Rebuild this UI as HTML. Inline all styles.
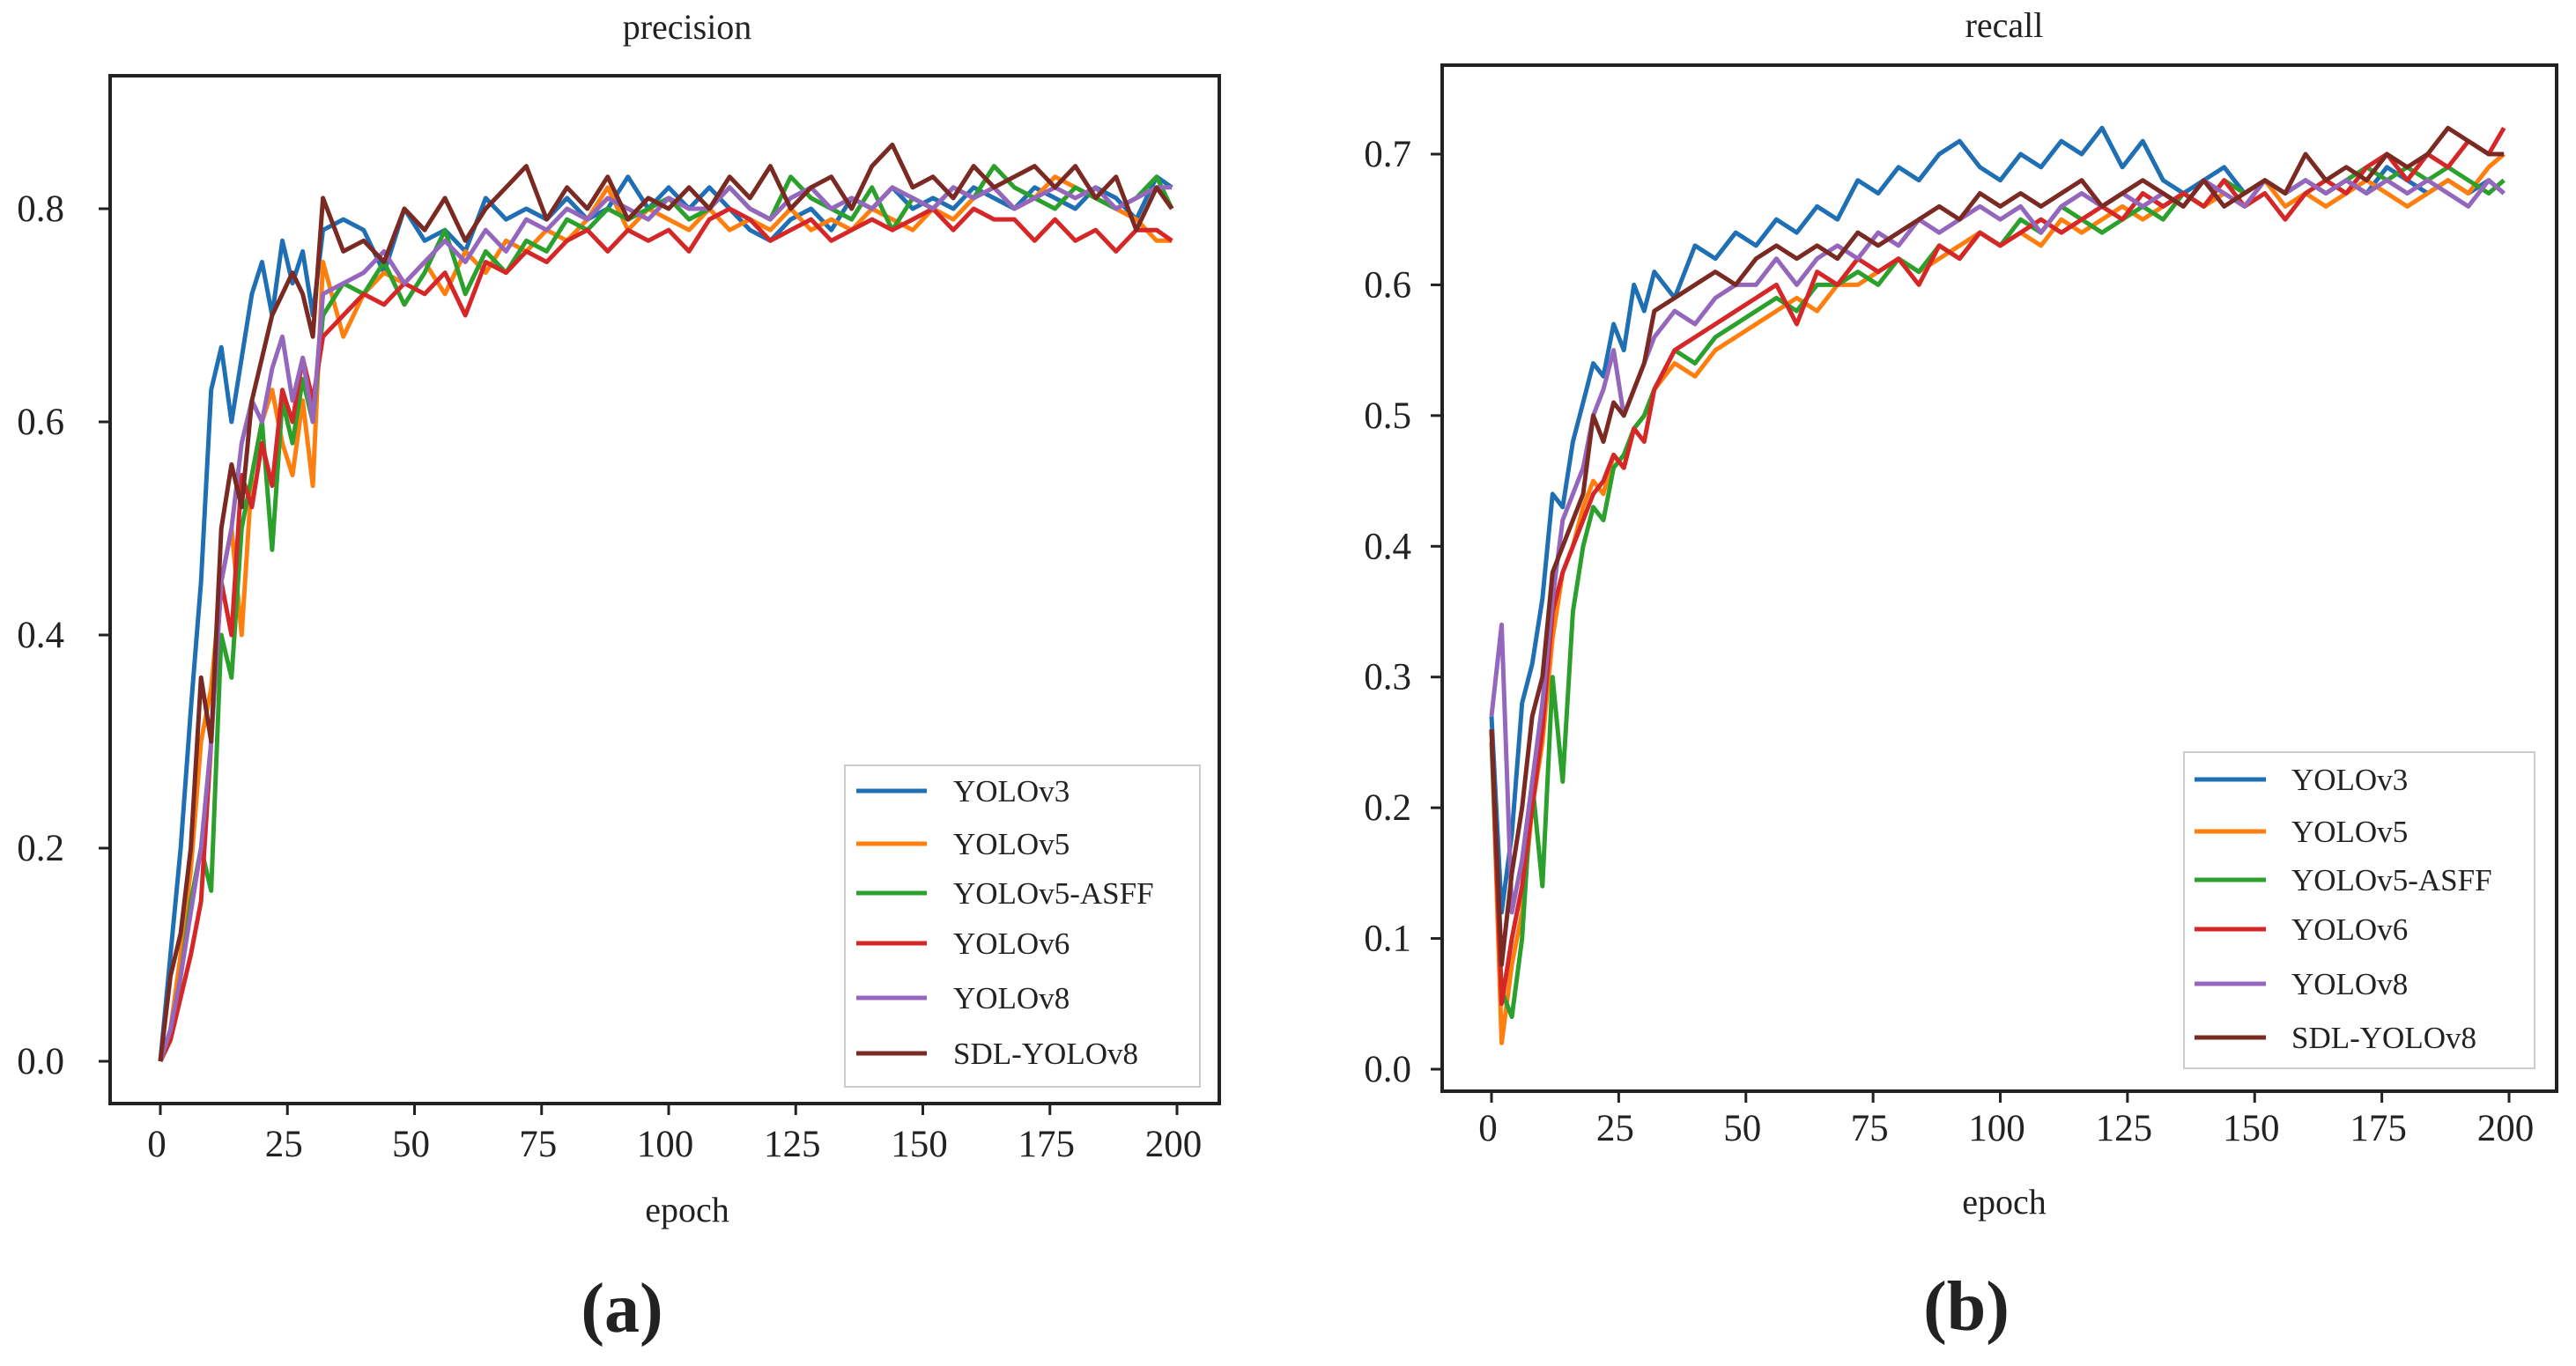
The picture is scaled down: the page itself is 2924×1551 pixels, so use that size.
<!DOCTYPE html>
<html><head><meta charset="utf-8"><style>
body{margin:0;background:#fff;}
svg text{font-family:"Liberation Serif",serif;fill:#222;}
</style></head><body>
<svg id="fig" width="2924" height="1546" viewBox="0 0 2924 1546" xmlns="http://www.w3.org/2000/svg">
<g id="chartA"></g>
<g id="chartB"></g>
<text x="706" y="1512" font-size="80" font-weight="bold" text-anchor="middle">(a)</text>
<text x="2232" y="1510" font-size="80" font-weight="bold" text-anchor="middle">(b)</text>
</svg>
<script>
const epochs=[0,2,4,6,8,10,12,14,16,18,20,22,24,26,28,30,32,36,40,44,48,52,56,60,64,68,72,76,80,84,88,92,96,100,104,108,112,116,120,124,128,132,136,140,144,148,152,156,160,164,168,172,176,180,184,188,192,196,199];
const seriesNames=["YOLOv3","YOLOv5","YOLOv5-ASFF","YOLOv6","YOLOv8","SDL-YOLOv8"];
const seriesColors=["#1f6fb4","#ff7f0e","#2ca02c","#d62728","#9467bd","#7a2a22"];
const precV3=[0.0,0.1,0.2,0.33,0.45,0.63,0.67,0.6,0.66,0.72,0.75,0.7,0.77,0.73,0.76,0.7,0.78,0.79,0.78,0.74,0.8,0.77,0.78,0.76,0.81,0.79,0.8,0.79,0.81,0.79,0.8,0.83,0.8,0.82,0.8,0.82,0.8,0.78,0.77,0.79,0.8,0.78,0.81,0.8,0.82,0.8,0.81,0.8,0.82,0.81,0.8,0.82,0.81,0.8,0.82,0.81,0.79,0.83,0.82];
const precV5=[0.0,0.03,0.1,0.18,0.3,0.35,0.45,0.5,0.4,0.55,0.6,0.63,0.58,0.55,0.62,0.54,0.75,0.68,0.72,0.74,0.73,0.75,0.72,0.76,0.74,0.77,0.76,0.78,0.77,0.79,0.82,0.78,0.8,0.79,0.78,0.8,0.78,0.79,0.78,0.8,0.78,0.79,0.78,0.8,0.79,0.78,0.8,0.79,0.81,0.82,0.8,0.81,0.83,0.82,0.81,0.8,0.79,0.77,0.77];
const precASFF=[0.0,0.02,0.08,0.15,0.2,0.16,0.4,0.36,0.5,0.55,0.6,0.48,0.62,0.58,0.64,0.6,0.7,0.73,0.72,0.75,0.71,0.74,0.78,0.72,0.76,0.74,0.77,0.76,0.79,0.78,0.8,0.79,0.8,0.81,0.79,0.8,0.82,0.8,0.79,0.83,0.81,0.8,0.79,0.82,0.78,0.81,0.8,0.82,0.81,0.84,0.82,0.81,0.8,0.82,0.81,0.8,0.81,0.83,0.8];
const precV6=[0.0,0.02,0.06,0.1,0.15,0.3,0.45,0.4,0.55,0.52,0.58,0.54,0.63,0.6,0.66,0.62,0.68,0.7,0.72,0.71,0.73,0.72,0.74,0.7,0.75,0.74,0.76,0.75,0.77,0.78,0.76,0.78,0.77,0.78,0.76,0.79,0.8,0.79,0.77,0.78,0.79,0.77,0.78,0.79,0.78,0.79,0.8,0.78,0.8,0.79,0.79,0.77,0.79,0.77,0.78,0.76,0.78,0.78,0.77];
const precV8=[0.0,0.03,0.08,0.14,0.2,0.3,0.45,0.5,0.58,0.62,0.6,0.65,0.68,0.62,0.66,0.6,0.72,0.73,0.74,0.76,0.73,0.75,0.77,0.75,0.78,0.76,0.79,0.78,0.8,0.79,0.81,0.8,0.79,0.81,0.8,0.8,0.82,0.8,0.79,0.81,0.82,0.8,0.81,0.8,0.82,0.81,0.8,0.82,0.81,0.82,0.8,0.81,0.82,0.81,0.82,0.8,0.81,0.82,0.82];
const precSDL=[0.0,0.08,0.12,0.2,0.36,0.3,0.5,0.56,0.52,0.62,0.66,0.7,0.72,0.74,0.72,0.68,0.81,0.76,0.77,0.75,0.8,0.78,0.81,0.77,0.8,0.82,0.84,0.79,0.82,0.8,0.83,0.79,0.81,0.8,0.82,0.8,0.83,0.81,0.84,0.8,0.82,0.83,0.8,0.84,0.86,0.82,0.83,0.81,0.84,0.82,0.83,0.84,0.82,0.84,0.81,0.83,0.78,0.82,0.8];
const recV3=[0.27,0.12,0.18,0.28,0.31,0.36,0.44,0.43,0.48,0.51,0.54,0.53,0.57,0.55,0.6,0.58,0.61,0.59,0.63,0.62,0.64,0.63,0.65,0.64,0.66,0.65,0.68,0.67,0.69,0.68,0.7,0.71,0.69,0.68,0.7,0.69,0.71,0.7,0.72,0.69,0.71,0.68,0.67,0.68,0.69,0.67,0.68,0.67,0.68,0.67,0.68,0.67,0.69,0.68,0.67,0.68,0.67,0.68,0.67];
const recV5=[0.26,0.02,0.08,0.12,0.2,0.25,0.33,0.38,0.4,0.43,0.45,0.44,0.47,0.46,0.49,0.5,0.52,0.54,0.53,0.55,0.56,0.57,0.58,0.59,0.58,0.6,0.6,0.61,0.62,0.61,0.62,0.63,0.64,0.63,0.64,0.63,0.65,0.64,0.65,0.66,0.65,0.66,0.67,0.66,0.67,0.66,0.68,0.66,0.67,0.66,0.67,0.68,0.67,0.66,0.67,0.68,0.67,0.69,0.7];
const recASFF=[0.25,0.06,0.04,0.1,0.22,0.14,0.3,0.22,0.35,0.4,0.43,0.42,0.46,0.47,0.49,0.5,0.52,0.55,0.54,0.56,0.57,0.58,0.59,0.58,0.6,0.6,0.61,0.6,0.62,0.61,0.63,0.62,0.64,0.63,0.65,0.64,0.66,0.65,0.64,0.65,0.66,0.65,0.67,0.66,0.68,0.67,0.68,0.67,0.68,0.67,0.68,0.69,0.68,0.69,0.68,0.69,0.68,0.67,0.68];
const recV6=[0.26,0.05,0.1,0.14,0.2,0.26,0.35,0.38,0.4,0.42,0.44,0.45,0.47,0.46,0.49,0.48,0.52,0.55,0.56,0.57,0.58,0.59,0.6,0.57,0.61,0.6,0.62,0.61,0.62,0.6,0.63,0.62,0.64,0.63,0.64,0.65,0.64,0.65,0.66,0.65,0.67,0.66,0.67,0.66,0.68,0.66,0.67,0.65,0.67,0.68,0.67,0.69,0.7,0.68,0.7,0.69,0.71,0.7,0.72];
const recV8=[0.27,0.34,0.12,0.16,0.22,0.28,0.36,0.42,0.44,0.46,0.5,0.52,0.55,0.5,0.52,0.54,0.56,0.58,0.57,0.59,0.6,0.6,0.62,0.6,0.62,0.63,0.62,0.64,0.63,0.65,0.64,0.65,0.66,0.65,0.66,0.64,0.66,0.67,0.66,0.67,0.66,0.67,0.66,0.68,0.67,0.66,0.68,0.67,0.68,0.67,0.68,0.67,0.68,0.67,0.68,0.67,0.66,0.68,0.67];
const recSDL=[0.26,0.08,0.15,0.2,0.27,0.3,0.38,0.4,0.42,0.44,0.5,0.48,0.51,0.5,0.52,0.54,0.58,0.59,0.6,0.61,0.6,0.62,0.63,0.62,0.63,0.62,0.64,0.63,0.64,0.65,0.66,0.65,0.67,0.66,0.67,0.66,0.67,0.68,0.66,0.67,0.68,0.67,0.66,0.68,0.66,0.67,0.68,0.67,0.7,0.68,0.69,0.68,0.7,0.69,0.7,0.72,0.71,0.7,0.7];
const xTicks=[0,25,50,75,100,125,150,175,200];
const yTicksA=[0.0,0.2,0.4,0.6,0.8];
const yTicksB=[0.0,0.1,0.2,0.3,0.4,0.5,0.6,0.7];

const NS="http://www.w3.org/2000/svg";
function mk(parent,tag,attrs){const e=document.createElementNS(NS,tag);for(const k in attrs)e.setAttribute(k,attrs[k]);parent.appendChild(e);return e;}

function drawChart(g,cfg){
  const xs=e=>cfg.x0+e*(cfg.x200-cfg.x0)/200;
  const ys=v=>cfg.y0-v*(cfg.y0-cfg.yTop)/cfg.vTop;
  const t=mk(g,'text',{x:cfg.titleX,y:cfg.titleY,'font-size':40,'text-anchor':'middle'});t.textContent=cfg.title;
  
  
  cfg.series.forEach((vals,i)=>{
    const d=vals.map((v,j)=>(j?'L':'M')+xs(epochs[j]).toFixed(1)+' '+ys(v).toFixed(1)).join(' ');
    const p=mk(g,'path',{d:d,fill:'none',stroke:seriesColors[i],'stroke-width':5,'stroke-linejoin':'round'});
    
    
  });
  const box=mk(g,'rect',{x:cfg.bx0,y:cfg.by0,width:cfg.bx1-cfg.bx0,height:cfg.by1-cfg.by0,fill:'none',stroke:'#222','stroke-width':4});
  
  
  xTicks.forEach(v=>{
    const x=xs(v);
    mk(g,'line',{x1:x,x2:x,y1:cfg.by1,y2:cfg.by1+13,stroke:'#222','stroke-width':3});
    const tx=mk(g,'text',{x:x-4,y:cfg.xLabY,'font-size':43,'text-anchor':'middle'});tx.textContent=v;
    
    
  });
  cfg.yTicks.forEach(v=>{
    const y=ys(v);
    mk(g,'line',{x1:cfg.bx0-13,x2:cfg.bx0,y1:y,y2:y,stroke:'#222','stroke-width':3});
    const ty=mk(g,'text',{x:cfg.yLabX,y:y+14,'font-size':43,'text-anchor':'end'});ty.textContent=v.toFixed(1);
    
    
  });
  const xl=mk(g,'text',{x:cfg.titleX,y:cfg.epochY,'font-size':40,'text-anchor':'middle'});xl.textContent='epoch';
  
  
  const lg=mk(g,'g',{});
  
  
  mk(lg,'rect',{x:cfg.lx0,y:cfg.ly0,width:cfg.lx1-cfg.lx0,height:cfg.ly1-cfg.ly0,fill:'#fff',stroke:'#ccc','stroke-width':2});
  seriesNames.forEach((n,i)=>{
    const y=cfg.legY[i];
    const e=mk(lg,'g',{});
    
    
    mk(e,'line',{x1:cfg.llx0,x2:cfg.llx1,y1:y,y2:y,stroke:seriesColors[i],'stroke-width':5});
    const tt=mk(e,'text',{x:cfg.ltx,y:y+12,'font-size':35});tt.textContent=n;
  });
}
drawChart(document.getElementById('chartA'),{title:'precision',titleX:780,titleY:44,x0:182,x200:1336,y0:1205,yTop:237,vTop:0.8,
  bx0:125,bx1:1384,by0:86,by1:1253,xLabY:1313,yLabX:73,epochY:1387,yTicks:yTicksA,
  series:[precV3,precV5,precASFF,precV6,precV8,precSDL],
  lx0:959,lx1:1362,ly0:869,ly1:1234,llx0:972,llx1:1052,ltx:1082,legY:[898,958,1014,1071,1133,1196]});
drawChart(document.getElementById('chartB'),{title:'recall',titleX:2275,titleY:42,x0:1693,x200:2848,y0:1214,yTop:175,vTop:0.7,
  bx0:1637,bx1:2902,by0:74,by1:1239,xLabY:1295,yLabX:1602,epochY:1378,yTicks:yTicksB,
  series:[recV3,recV5,recASFF,recV6,recV8,recSDL],
  lx0:2479,lx1:2877,ly0:854,ly1:1213,llx0:2491,llx1:2572,ltx:2601,legY:[885,944,999,1055,1117,1178]});
</script>
</body></html>
